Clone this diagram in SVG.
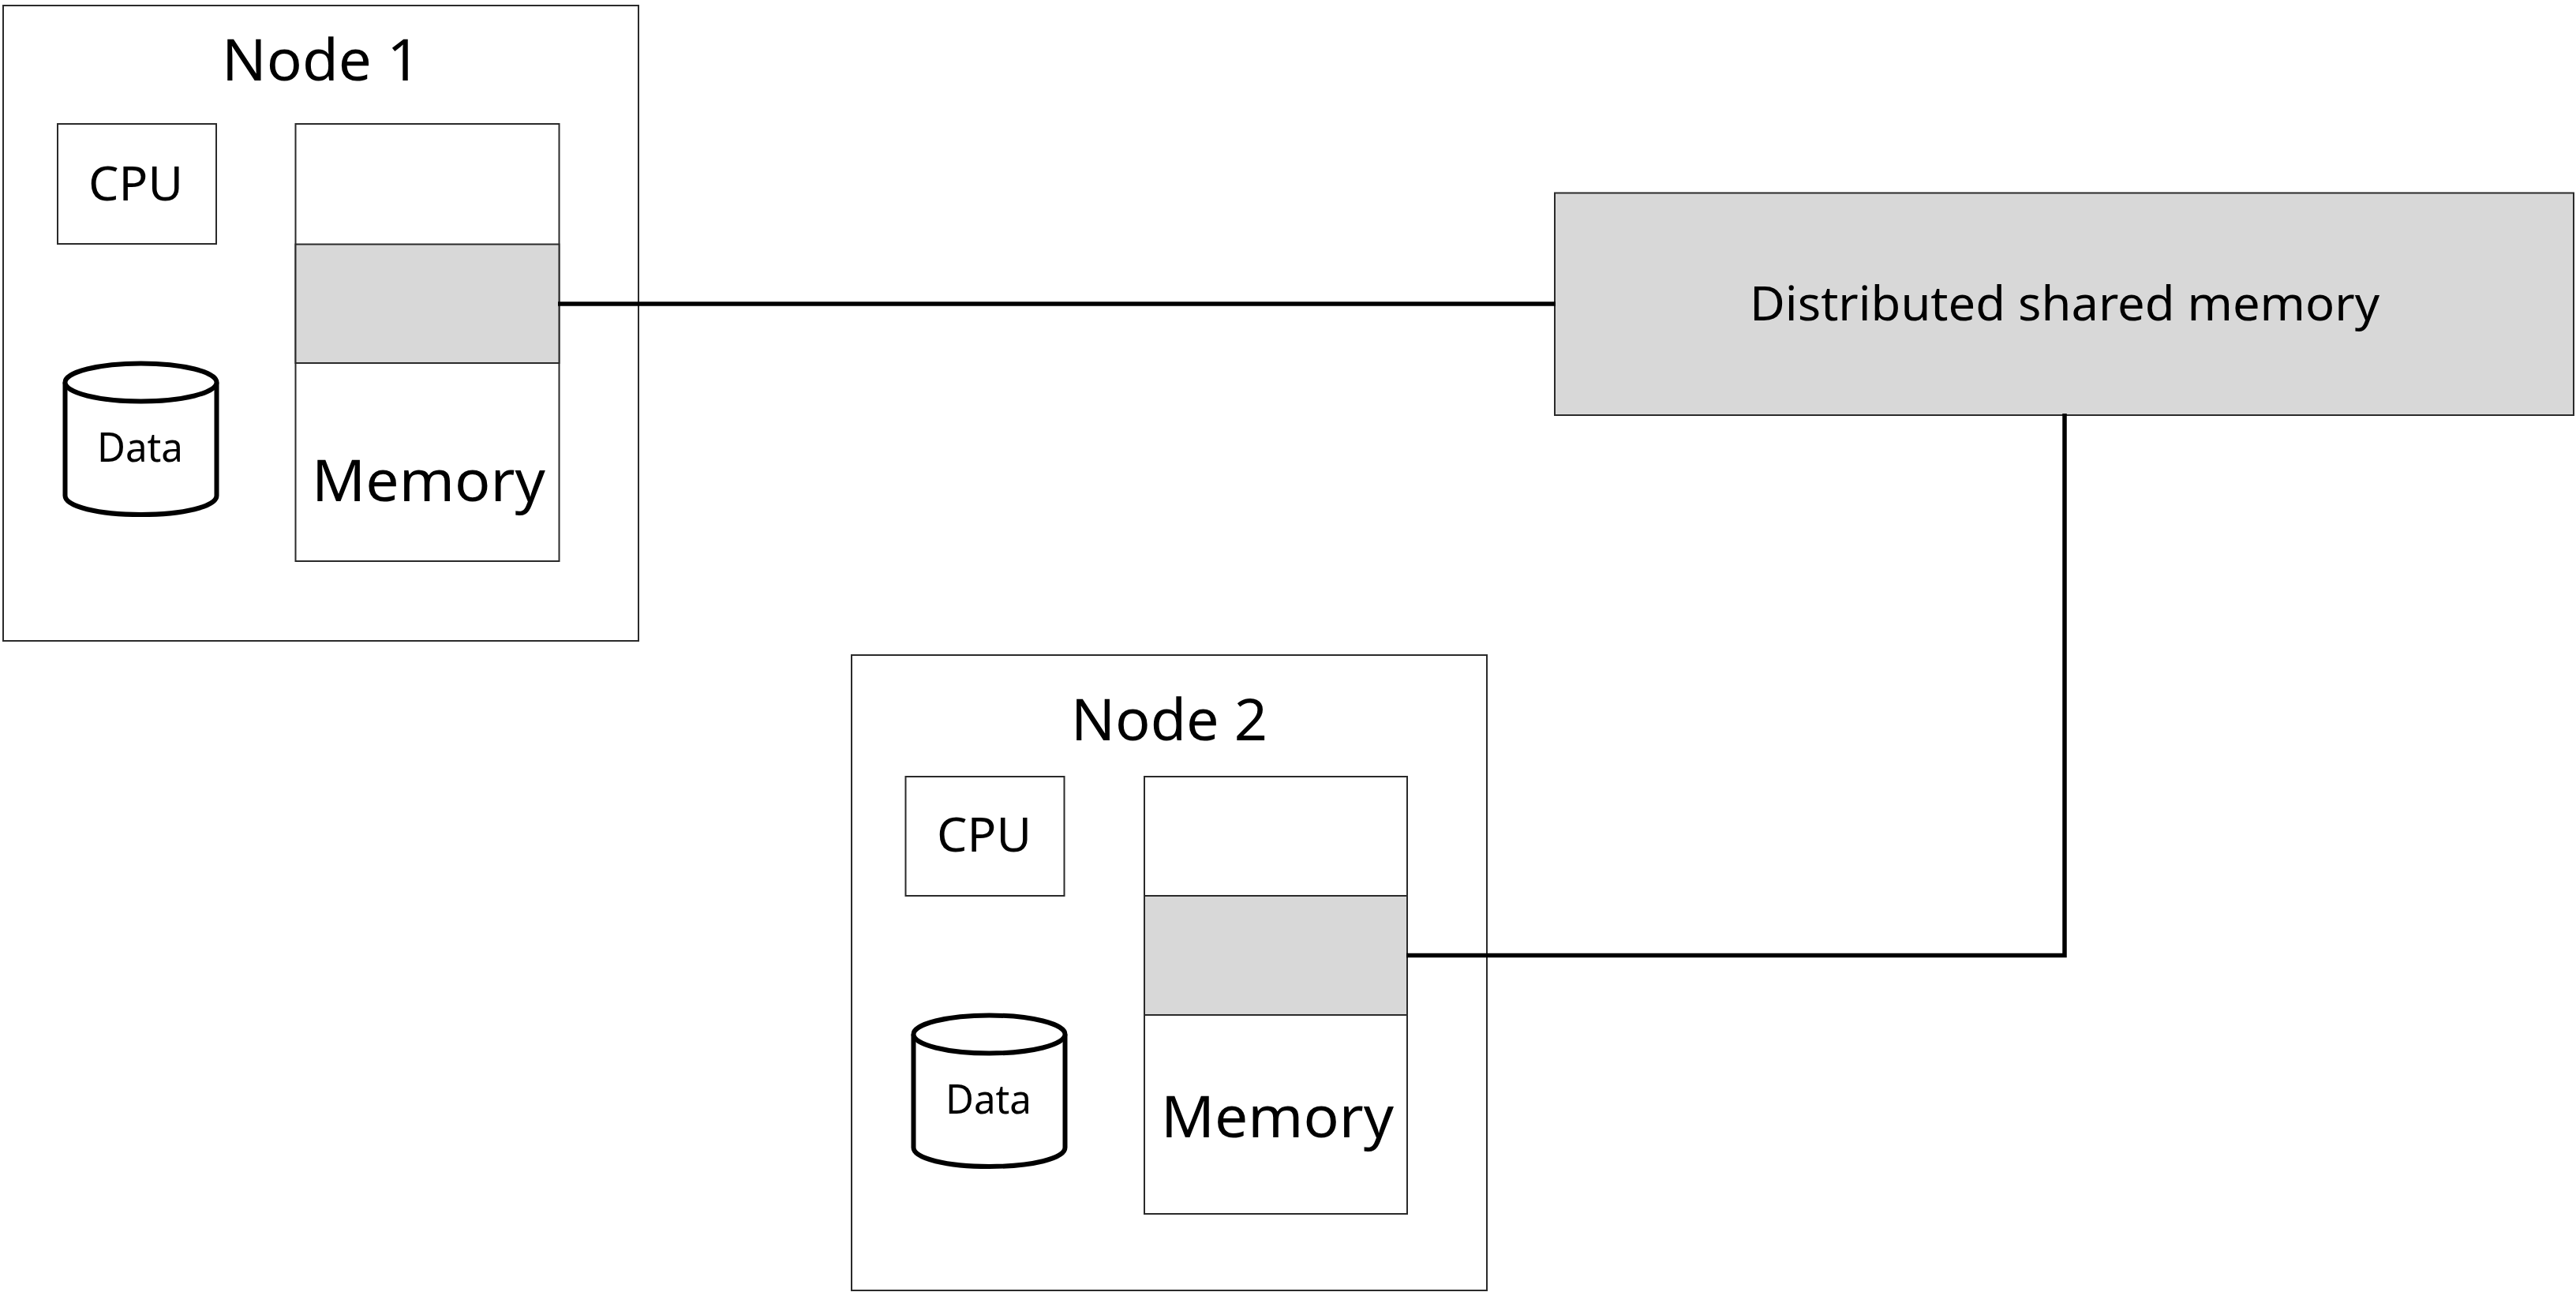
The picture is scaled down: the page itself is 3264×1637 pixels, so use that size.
<svg xmlns="http://www.w3.org/2000/svg" width="3264" height="1637" viewBox="0 0 3264 1637">
<style>
.box{fill:#fff;stroke:#2a2a2a;stroke-width:2}
.gray{fill:#d8d8d8;stroke:#2a2a2a;stroke-width:2}
.cyl{fill:#fff;stroke:#000;stroke-width:6}
.conn{fill:none;stroke:#000;stroke-width:5.500;stroke-linejoin:miter}
text{font-family:"Noto Sans","Open Sans","Liberation Sans",sans-serif;fill:#000}
.t73{font-size:73px}.t60{font-size:61px}.t50{font-size:51px}
</style>
<rect width="3264" height="1637" fill="#fff"/>
<g id="node1">
<rect class="box" x="4" y="7" width="805" height="805"/>
<text class="t73" x="281" y="102" textLength="252" lengthAdjust="spacingAndGlyphs">Node 1</text>
<g id="cpu1"><rect class="box" x="73" y="157" width="201" height="152"/>
<text class="t60" x="112" y="254" textLength="120" lengthAdjust="spacingAndGlyphs">CPU</text></g>
<g id="memory1"><rect class="box" x="374.500" y="157" width="334" height="554"/>
<rect class="gray" x="374.500" y="309.500" width="334" height="150.500"/>
<text class="t73" x="395" y="635" textLength="296" lengthAdjust="spacingAndGlyphs">Memory</text></g>
<g id="data1"><path class="cyl" d="M82.500 484.500V628C82.500 642 125 652 178.500 652S274.500 642 274.500 628V484.500"/>
<ellipse class="cyl" cx="178.500" cy="484.500" rx="96" ry="24"/>
<text class="t50" x="123" y="585" textLength="109" lengthAdjust="spacingAndGlyphs">Data</text></g>
</g>
<g id="node2">
<rect class="box" x="1079" y="830" width="805" height="805"/>
<text class="t73" x="1357" y="938" textLength="249" lengthAdjust="spacingAndGlyphs">Node 2</text>
<g id="cpu2"><rect class="box" x="1147.500" y="984" width="201" height="151"/>
<text class="t60" x="1187" y="1079" textLength="120" lengthAdjust="spacingAndGlyphs">CPU</text></g>
<g id="memory2"><rect class="box" x="1450" y="984" width="333" height="554"/>
<rect class="gray" x="1450" y="1135" width="333" height="151"/>
<text class="t73" x="1471" y="1441" textLength="295" lengthAdjust="spacingAndGlyphs">Memory</text></g>
<g id="data2"><path class="cyl" d="M1157.500 1310.500V1454C1157.500 1468 1200 1478 1253.500 1478S1349.500 1468 1349.500 1454V1310.500"/>
<ellipse class="cyl" cx="1253.500" cy="1310.500" rx="96" ry="24"/>
<text class="t50" x="1198" y="1411" textLength="109" lengthAdjust="spacingAndGlyphs">Data</text></g>
</g>
<g id="dsm">
<rect class="gray" x="1970" y="244.500" width="1291" height="281.500"/>
<text class="t60" x="2217" y="406" textLength="798" lengthAdjust="spacingAndGlyphs">Distributed shared memory</text>
</g>
<g id="connectors">
<path class="conn" d="M707 385H1971"/>
<path class="conn" d="M1782 1210.500H2616V524"/>
</g>
</svg>
